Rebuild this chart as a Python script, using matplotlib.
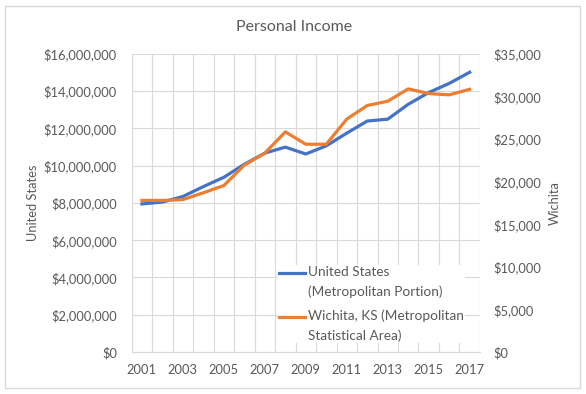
import matplotlib.pyplot as plt
from matplotlib.ticker import FuncFormatter, MultipleLocator
from matplotlib.patches import Rectangle
from matplotlib.legend_handler import HandlerLine2D

# Data
years = list(range(2001, 2018))
us_income = [7.95e6, 8.05e6, 8.35e6, 8.88e6, 9.38e6, 10.08e6, 10.68e6, 11.0e6,
             10.63e6, 11.07e6, 11.75e6, 12.4e6, 12.5e6, 13.3e6, 13.93e6, 14.42e6, 15.02e6]
wichita_income = [17800, 17800, 17900, 18700, 19550, 21950, 23350, 25850,
                  24400, 24400, 27350, 28950, 29450, 30900, 30350, 30200, 30850]

us_label = "United States\n(Metropolitan Portion)"
wichita_label = "Wichita, KS (Metropolitan\nStatistical Area)"

text_col = "#595959"
grid_col = "#D9D9D9"
blue = "#4472C4"
orange = "#ED7D31"

plt.rcParams["font.family"] = ["Lato", "DejaVu Sans"]


# Excel puts the legend line next to the first text line, not the middle
class TopLine(HandlerLine2D):
    def create_artists(self, legend, orig_handle, xdescent, ydescent,
                       width, height, fontsize, trans):
        arts = super().create_artists(legend, orig_handle, xdescent, ydescent,
                                      width, height, fontsize, trans)
        for a in arts:
            a.set_ydata([y + 6.6 for y in a.get_ydata()])
        return arts


fig = plt.figure(figsize=(5.86, 3.94), dpi=100)
ax = fig.add_axes([0.2247, 0.1066, 0.5943, 0.7564])

# outer chart border
fig.patches.append(Rectangle((5 / 586, 6 / 394), 575 / 586, 382 / 394,
                             transform=fig.transFigure, fill=False,
                             edgecolor="#D9D9D9", linewidth=1))

l1, = ax.plot(years, us_income, color=blue, linewidth=2.3, label=us_label)
ax.set_xlim(2000.5, 2017.5)
ax.set_ylim(0, 16e6)
ax.yaxis.set_major_locator(MultipleLocator(2e6))
ax.yaxis.set_major_formatter(FuncFormatter(lambda v, p: f"${v:,.0f}"))
ax.set_xticks(years[::2])
ax.set_xticks([y + 0.5 for y in [2000] + years], minor=True)
ax.grid(True, which="major", axis="y", color=grid_col, linewidth=0.8)
ax.grid(True, which="minor", axis="x", color=grid_col, linewidth=0.8)
ax.tick_params(which="both", length=0, colors=text_col, labelsize=9.3)
ax.tick_params(axis="y", pad=10.5)
ax.tick_params(axis="x", pad=9)
ax.set_ylabel("United States", color=text_col, fontsize=9.3, labelpad=3.5)
for s in ["top", "left", "right"]:
    ax.spines[s].set_visible(False)
ax.spines["bottom"].set_color(grid_col)

ax2 = ax.twinx()
l2, = ax2.plot(years, wichita_income, color=orange, linewidth=2.3, label=wichita_label)
ax2.set_ylim(0, 35000)
ax2.yaxis.set_major_locator(MultipleLocator(5000))
ax2.yaxis.set_major_formatter(FuncFormatter(lambda v, p: f"${v:,.0f}"))
ax2.tick_params(length=0, colors=text_col, labelsize=9.3, pad=10)
ax2.set_ylabel("Wichita", color=text_col, fontsize=9.3, labelpad=5)
for s in ax2.spines.values():
    s.set_visible(False)

leg = ax2.legend(handles=[l1, l2], loc="lower left", bbox_to_anchor=(0.40, 0.007),
                 frameon=True, fancybox=False, edgecolor="none", facecolor="white",
                 framealpha=1, fontsize=9.8, handlelength=1.9, handletextpad=0.2,
                 labelspacing=0.9, borderpad=0.1,
                 handler_map={l1: TopLine(), l2: TopLine()})
for t in leg.get_texts():
    t.set_color(text_col)
    t.set_linespacing(1.65)

fig.text(0.502, 0.932, "Personal Income", ha="center", va="center",
         color=text_col, fontsize=11.5)

fig.savefig("out.png", dpi=100)
